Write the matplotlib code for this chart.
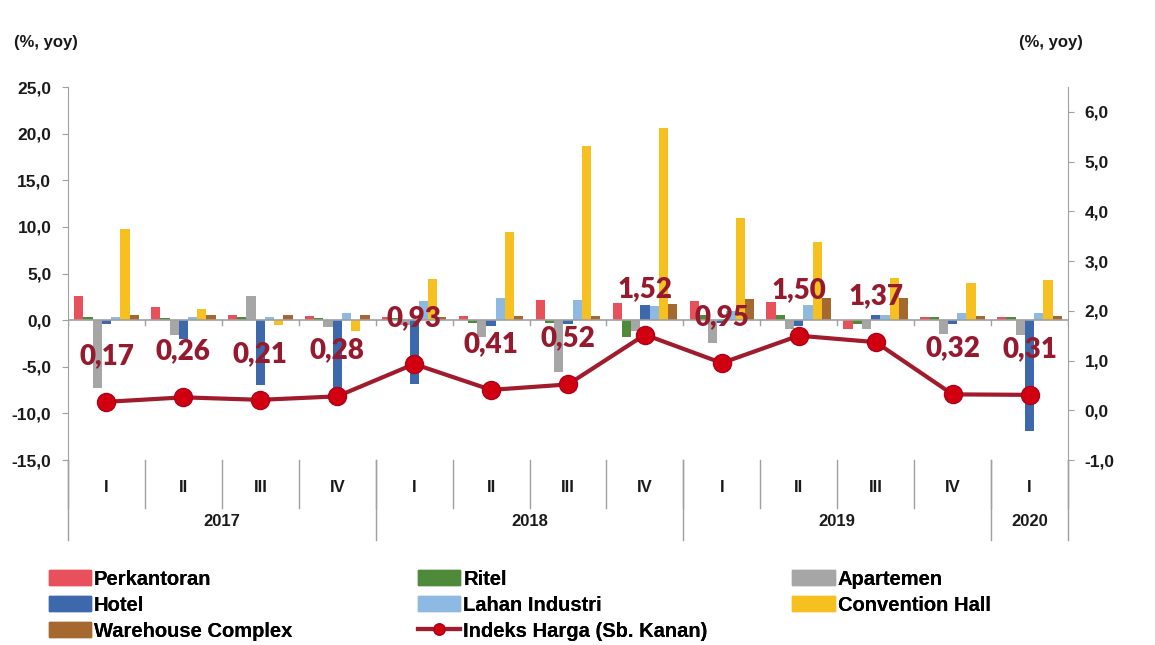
import numpy as np
import matplotlib.pyplot as plt
from matplotlib.ticker import FuncFormatter, MultipleLocator
from matplotlib.lines import Line2D
from matplotlib.patches import Patch

# kuartal dan tahun
kuartal = ["I", "II", "III", "IV", "I", "II", "III", "IV", "I", "II", "III", "IV", "I"]
tahun = ["2017", "2018", "2019", "2020"]
jumlah_kuartal = [4, 4, 4, 1]

# pertumbuhan harga per segmen (%, yoy) - sumbu kiri
perkantoran = [2.6, 1.4, 0.6, 0.4, 0.3, 0.4, 2.2, 1.8, 2.1, 1.9, -1.0, 0.3, 0.3]
ritel = [0.3, 0.2, 0.3, 0.2, 0.2, -0.3, -0.3, -1.8, 0.5, 0.5, -0.4, 0.3, 0.3]
apartemen = [-7.3, -1.6, 2.6, -0.7, -0.5, -1.8, -5.6, -1.2, -2.5, -1.0, -1.0, -1.5, -1.6]
hotel = [-0.4, -2.0, -7.0, -7.5, -6.8, -0.6, -0.4, 1.6, -0.3, -0.6, 0.5, -0.4, -11.9]
lahan_industri = [0.3, 0.3, 0.3, 0.8, 2.0, 2.4, 2.2, 1.5, 1.0, 1.6, 0.5, 0.8, 0.8]
convention_hall = [9.8, 1.2, -0.5, -1.2, 4.4, 9.4, 18.7, 20.6, 11.0, 8.4, 4.5, 4.0, 4.3]
warehouse = [0.5, 0.5, 0.5, 0.6, 0.3, 0.4, 0.4, 1.7, 2.3, 2.4, 2.4, 0.4, 0.4]

# indeks harga (sumbu kanan)
indeks_harga = [0.17, 0.26, 0.21, 0.28, 0.93, 0.41, 0.52, 1.52, 0.95, 1.50, 1.37, 0.32, 0.31]

seri = [
    ("Perkantoran", perkantoran, "#e8505b"),
    ("Ritel", ritel, "#4f8a3b"),
    ("Apartemen", apartemen, "#a6a6a6"),
    ("Hotel", hotel, "#3d68ac"),
    ("Lahan Industri", lahan_industri, "#8db9e2"),
    ("Convention Hall", convention_hall, "#f6c021"),
    ("Warehouse Complex", warehouse, "#a5692f"),
]

fmt = FuncFormatter(lambda v, p: f"{v:.1f}".replace(".", ","))
font_tick = dict(family=["Liberation Sans", "DejaVu Sans"], weight="bold", size=12.5)

fig = plt.figure(figsize=(11.55, 6.45), dpi=100)
ax = fig.add_axes([0.0589, 0.2868, 0.8658, 0.5783])

x = np.arange(len(kuartal))
lebar = 0.12
for i, (nama, nilai, warna) in enumerate(seri):
    ax.bar(x + (i - 3) * lebar, nilai, width=lebar, color=warna, label=nama, zorder=2)

ax.set_xlim(-0.5, len(kuartal) - 0.5)
ax.set_ylim(-15, 25)
ax.yaxis.set_major_locator(MultipleLocator(5))
ax.yaxis.set_major_formatter(fmt)
ax.set_xticks([])
for s in ["top", "bottom", "right"]:
    ax.spines[s].set_visible(False)
ax.spines["left"].set_color("#a0a0a0")
ax.tick_params(axis="y", colors="#a0a0a0", length=4, pad=8)
for t in ax.get_yticklabels():
    t.set_color("#1a1a1a")
    t.set_fontproperties(font_tick)

# garis nol (sumbu kategori) dengan tanda kecil
ax.axhline(0, color="#a0a0a0", lw=1.2, zorder=3)
for b in np.arange(-0.5, len(kuartal)):
    ax.plot([b, b], [0, -0.5], color="#a0a0a0", lw=1, zorder=3)

# sumbu kanan: indeks harga
ax2 = ax.twinx()
ax2.set_ylim(-1.0, 6.5)
ax2.yaxis.set_major_locator(MultipleLocator(1))
ax2.yaxis.set_major_formatter(fmt)
for s in ["top", "bottom", "left"]:
    ax2.spines[s].set_visible(False)
ax2.spines["right"].set_color("#a0a0a0")
ax2.tick_params(axis="y", colors="#a0a0a0", length=4, pad=8)
for t in ax2.get_yticklabels():
    t.set_color("#1a1a1a")
    t.set_fontproperties(font_tick)

ax2.plot(x, indeks_harga, color="#a01c2c", lw=3, marker="o", markersize=13,
         markerfacecolor="#d00010", markeredgecolor="#b0001a", zorder=5)
for xi, v in zip(x, indeks_harga):
    ax2.annotate(f"{v:.2f}".replace(".", ","), (xi, v), xytext=(0, 33),
                 textcoords="offset points", ha="center", va="center",
                 fontsize=20, fontweight="heavy", family="Lato", color="#951a2e", zorder=6)

# label kategori bertingkat
trans = ax.get_xaxis_transform()
for xi, q in zip(x, kuartal):
    ax.text(xi, -0.075, q, transform=trans, ha="center", va="center",
            fontsize=12, fontweight="bold", family="Liberation Sans", color="#1a1a1a")
for b in np.arange(-0.5, len(kuartal)):
    ax.plot([b, b], [0, -0.128], transform=trans, color="#a0a0a0", lw=1, clip_on=False)

awal = 0
for th, n in zip(tahun, jumlah_kuartal):
    ax.text(awal + n / 2 - 0.5, -0.166, th, transform=trans, ha="center", va="center",
            fontsize=12, fontweight="bold", family="Liberation Sans", color="#1a1a1a")
    ax.plot([awal - 0.5, awal - 0.5], [0, -0.215], transform=trans,
            color="#a0a0a0", lw=1, clip_on=False)
    awal += n
ax.plot([awal - 0.5, awal - 0.5], [0, -0.215], transform=trans,
        color="#a0a0a0", lw=1, clip_on=False)

# satuan
fig.text(0.012, 0.927, "(%, yoy)", fontsize=12, fontweight="bold",
         family="Liberation Sans", color="#1a1a1a")
fig.text(0.882, 0.927, "(%, yoy)", fontsize=12, fontweight="bold",
         family="Liberation Sans", color="#1a1a1a")

# legenda: tiga kolom terpisah
h = [Patch(color=w) for _, _, w in seri]
nama = [n for n, _, _ in seri]
garis = Line2D([], [], color="#a01c2c", lw=3, marker="o", markersize=8,
               markerfacecolor="#d00010", markeredgecolor="#b0001a")
kolom = [
    ([h[0], h[3], h[6]], [nama[0], nama[3], nama[6]], 0.042),
    ([h[1], h[4], garis], [nama[1], nama[4], "Indeks Harga (Sb. Kanan)"], 0.362),
    ([h[2], h[5]], [nama[2], nama[5]], 0.686),
]
for hs, ls, x0 in kolom:
    lg = fig.legend(hs, ls, loc="upper left", bbox_to_anchor=(x0, 0.117), ncol=1,
                    frameon=False, handlelength=2.1, handleheight=0.8, handletextpad=0.15,
                    labelspacing=0.35, borderaxespad=0, borderpad=0,
                    prop=dict(family="Liberation Sans", weight="bold", size=14.5))
    fig.add_artist(lg)

fig.savefig("out.png", dpi=100, facecolor="white")
